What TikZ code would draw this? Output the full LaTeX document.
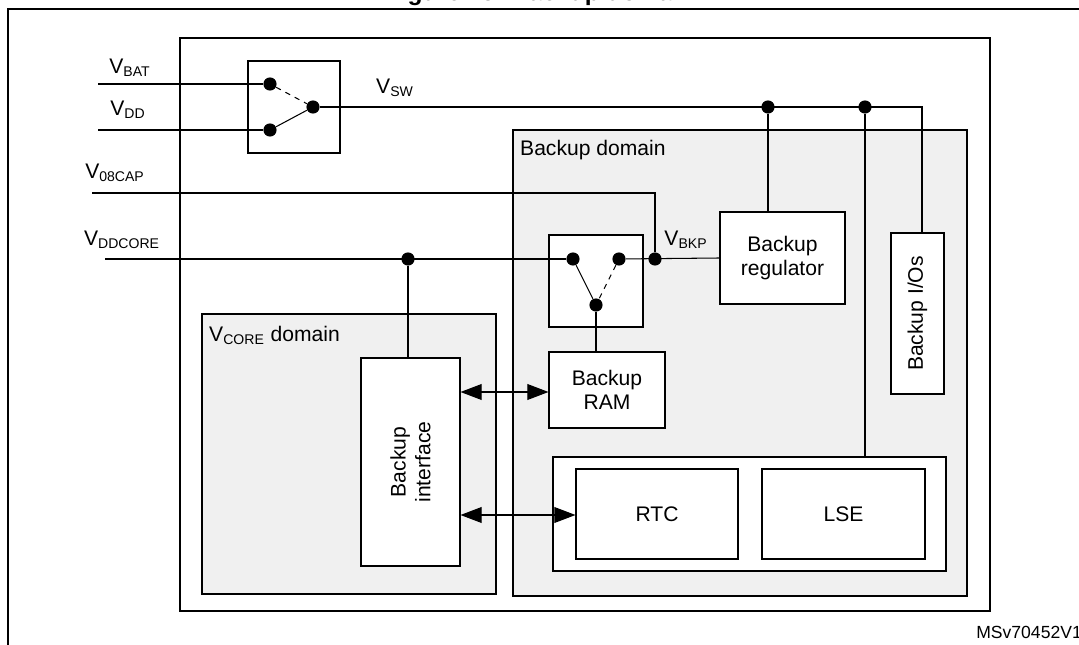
\documentclass[tikz,border=0pt]{standalone}
\usepackage{fontspec}
\setmainfont{Liberation Sans}
\usetikzlibrary{arrows.meta}
\begin{document}
\begin{tikzpicture}[x=0.02cm,y=-0.02cm,
  every node/.style={font=\fontsize{12}{14}\selectfont},
  box/.style={draw,fill=white,line width=0.6pt,inner sep=0pt,align=center},
  dom/.style={draw,fill=gray!12,line width=0.6pt},
  wire/.style={line width=0.6pt},
  dot/.style={circle,fill=black,inner sep=0pt,minimum size=7.5pt},
  ar/.style={line width=0.6pt,{Triangle[length=12pt,width=9pt]}-{Triangle[length=12pt,width=9pt]}}]
\useasboundingbox (0,0) rectangle (1079,645);
\node[font=\bfseries\fontsize{14}{16}\selectfont] (title) at (540,-6) {Figure 25. Backup domain};
\draw[line width=1pt] (8,700) -- (8,9) -- (1100,9);
\draw[wire] (180,38) rectangle (990,611);
% domains
\draw[dom] (513,130) rectangle (967,596);
\node[anchor=north west] (bdl) at (514,134) {Backup domain};
\draw[dom] (202,314) rectangle (496,594);
\node[anchor=north west] (vcl) at (203,320) {V\textsubscript{CORE} domain};
% switch 1
\draw[wire,fill=white] (248,61) rectangle (340,153);
\node[dot] (d1) at (270,84) {};
\node[dot] (d2) at (270,130) {};
\node[dot] (d3) at (313,107) {};
\draw[wire,dashed] (d1) -- (d3);
\draw[wire] (d2) -- (d3);
\coordinate (vbat) at (98,84);
\coordinate (vdd) at (98,130);
\draw[wire] (vbat) -- (d1);
\draw[wire] (vdd) -- (d2);
\node (lbat) at (130,68) {V\textsubscript{BAT}};
\node (ldd) at (128,110) {V\textsubscript{DD}};
\node (lsw) at (395,88) {V\textsubscript{SW}};
% boxes
\node[box,minimum width=125*0.02cm,minimum height=92*0.02cm] (reg) at (782.5,258) {Backup\\regulator};
\node[box,minimum width=53*0.02cm,minimum height=161*0.02cm] (io) at (917.5,313.5) {};
\node[rotate=90] (iol) at (917.5,313.5) {Backup I/Os};
\node[box,minimum width=116*0.02cm,minimum height=76*0.02cm] (ram) at (607,390) {Backup\\RAM};
\node[box,minimum width=99*0.02cm,minimum height=208*0.02cm] (bif) at (410.5,462) {};
\node[rotate=90,align=center] (bifl) at (410.5,462) {Backup\\interface};
\node[box,minimum width=393*0.02cm,minimum height=114*0.02cm] (cont) at (749.5,514) {};
\node[box,minimum width=162*0.02cm,minimum height=90*0.02cm] (rtc) at (657,514) {RTC};
\node[box,minimum width=163*0.02cm,minimum height=90*0.02cm] (lse) at (843.5,514) {LSE};
% switch 2
\draw[wire,fill=white] (549,235) rectangle (643,327);
\node[dot] (e1) at (573,259) {};
\node[dot] (e2) at (619,259) {};
\node[dot] (e3) at (596,305) {};
\draw[wire] (e1) -- (e3);
\draw[wire,dashed] (e2) -- (e3);
\draw[wire] (e3) -- (e3 |- ram.north);
% Vsw line
\node[dot] (j1) at (768,107) {};
\node[dot] (j2) at (865,107) {};
\coordinate (c1) at (922,107);
\draw[wire] (d3) -- (c1) -- (io.north -| c1);
\draw[wire] (j1) -- (j1 |- reg.north);
\draw[wire] (j2) -- (cont.north -| j2);
% V08CAP
\coordinate (v08) at (92,193);
\node[dot] (j3) at (655,259) {};
\draw[wire] (v08) -- (655,193) -- (j3);
\node (l08) at (115,173) {V\textsubscript{08CAP}};
% VDDCORE
\coordinate (vdc) at (105,259);
\node[dot] (j4) at (408,259) {};
\draw[wire] (vdc) -- (e1);
\draw[wire] (e2) -- (reg.west);
\draw[wire] (j4) -- (j4 |- bif.north);
\node (ldc) at (122,240) {V\textsubscript{DDCORE}};
\node (lbkp) at (686,240) {V\textsubscript{BKP}};
% arrows
\draw[ar] (bif.east |- 0,392) -- (ram.west |- 0,392);
\draw[ar] (bif.east |- 0,515) -- (rtc.west |- 0,515);
\node[anchor=east,font=\fontsize{10}{12}\selectfont] (ms) at (1088,632) {MSv70452V1};
\end{tikzpicture}
\end{document}
